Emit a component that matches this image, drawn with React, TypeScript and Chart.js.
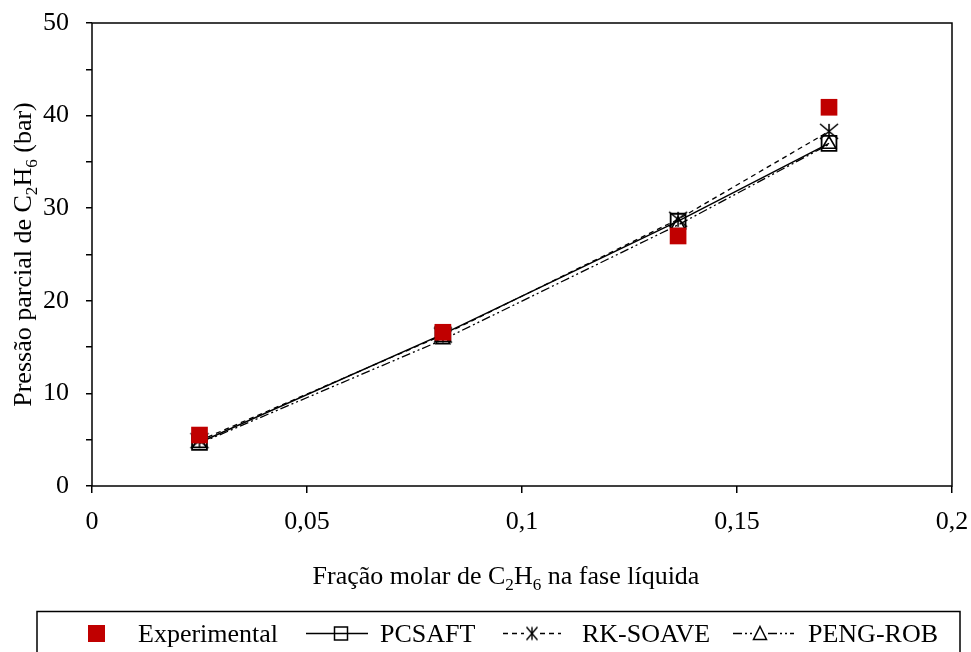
import React, { useEffect, useRef } from 'react';
import { Chart, registerables } from 'chart.js';

Chart.register(...registerables);

// Liquid-phase mole fraction of ethane
const moleFraction = [0.025, 0.0816, 0.1363, 0.1714];
// Partial pressure of ethane (bar)
const pExperimental = [5.5, 16.6, 27.0, 40.9];
const pPcsaft = [4.7, 16.4, 28.6, 37.0];
const pRkSoave = [4.9, 16.3, 28.8, 38.3];
const pPengRob = [4.6, 15.8, 28.2, 36.9];

const xTickValues = [0, 0.05, 0.1, 0.15, 0.2];
const yTickValues = [0, 5, 10, 15, 20, 25, 30, 35, 40, 45, 50];
const yLabelledTicks = [0, 10, 20, 30, 40, 50];

const seriesNames = ['Experimental', 'PCSAFT', 'RK-SOAVE', 'PENG-ROB'];

const FONT = "'Liberation Serif', 'Times New Roman', serif";
const RED = '#C00000';
const DASH_RK = [5, 4];
const DASH_PR = [9, 3, 2, 3, 2, 3];

type Seg = { t: string; sub?: boolean };

const xTitle: Seg[] = [
  { t: 'Fração molar de C' },
  { t: '2', sub: true },
  { t: 'H' },
  { t: '6', sub: true },
  { t: ' na fase líquida' },
];
const yTitle: Seg[] = [
  { t: 'Pressão parcial de C' },
  { t: '2', sub: true },
  { t: 'H' },
  { t: '6', sub: true },
  { t: ' (bar)' },
];

function richWidth(ctx: CanvasRenderingContext2D, segs: Seg[], size: number) {
  let w = 0;
  for (const s of segs) {
    ctx.font = `${s.sub ? size * 0.66 : size}px ${FONT}`;
    w += ctx.measureText(s.t).width;
  }
  return w;
}

function drawRich(ctx: CanvasRenderingContext2D, segs: Seg[], cx: number, baseline: number, size: number) {
  const w = richWidth(ctx, segs, size);
  let x = cx - w / 2;
  ctx.textBaseline = 'alphabetic';
  ctx.textAlign = 'left';
  ctx.fillStyle = '#000';
  for (const s of segs) {
    const fs = s.sub ? size * 0.66 : size;
    ctx.font = `${fs}px ${FONT}`;
    ctx.fillText(s.t, x, baseline + (s.sub ? size * 0.22 : 0));
    x += ctx.measureText(s.t).width;
  }
}

function makeAsterisk(w: number, h: number, lw: number) {
  const c = document.createElement('canvas');
  c.width = Math.ceil(w + lw * 2);
  c.height = Math.ceil(h + lw * 2);
  const g = c.getContext('2d')!;
  g.translate(c.width / 2, c.height / 2);
  g.strokeStyle = '#000';
  g.lineWidth = lw;
  g.beginPath();
  g.moveTo(0, -h / 2);
  g.lineTo(0, h / 2);
  g.moveTo(-w / 2, -h / 2);
  g.lineTo(w / 2, h / 2);
  g.moveTo(-w / 2, h / 2);
  g.lineTo(w / 2, -h / 2);
  g.stroke();
  return c;
}

const framePlugin = {
  id: 'frame',
  beforeDatasetsDraw(chart: any) {
    const { ctx, chartArea: a } = chart;
    ctx.save();
    ctx.strokeStyle = '#000';
    ctx.lineWidth = 1.5;
    ctx.strokeRect(a.left, a.top, a.right - a.left, a.bottom - a.top);
    ctx.restore();
  },
};

const titlesPlugin = {
  id: 'titles',
  afterDraw(chart: any) {
    const { ctx, chartArea: a } = chart;
    ctx.save();
    drawRich(ctx, xTitle, 506, 584, 26);
    ctx.translate(31, (a.top + a.bottom) / 2);
    ctx.rotate(-Math.PI / 2);
    drawRich(ctx, yTitle, 0, 0, 26);
    ctx.restore();
  },
};

function makeLegendPlugin(star: HTMLCanvasElement) {
  return {
    id: 'boxLegend',
    afterDraw(chart: any) {
      const { ctx } = chart;
      const cy = 633.5;
      ctx.save();
      ctx.strokeStyle = '#000';
      ctx.lineWidth = 1.5;
      ctx.strokeRect(37, 611.5, 923, 60);

      ctx.fillStyle = '#000';
      ctx.font = `26px ${FONT}`;
      ctx.textBaseline = 'alphabetic';
      ctx.textAlign = 'left';

      // Experimental
      ctx.fillStyle = RED;
      ctx.fillRect(88, cy - 8.5, 17, 17);
      ctx.fillStyle = '#000';
      ctx.fillText(seriesNames[0], 138, 642);

      // PCSAFT
      ctx.lineWidth = 1.5;
      ctx.beginPath();
      ctx.moveTo(306, cy);
      ctx.lineTo(368, cy);
      ctx.stroke();
      ctx.strokeRect(334.5, cy - 6.5, 13, 13);
      ctx.fillText(seriesNames[1], 380, 642);

      // RK-SOAVE
      ctx.setLineDash(DASH_RK);
      ctx.beginPath();
      ctx.moveTo(503, cy);
      ctx.lineTo(524, cy);
      ctx.moveTo(540, cy);
      ctx.lineTo(561, cy);
      ctx.stroke();
      ctx.setLineDash([]);
      ctx.drawImage(star, 532 - star.width / 2, cy - star.height / 2);
      ctx.fillText(seriesNames[2], 582, 642);

      // PENG-ROB
      ctx.setLineDash(DASH_PR);
      ctx.beginPath();
      ctx.moveTo(733, cy);
      ctx.lineTo(753, cy);
      ctx.moveTo(768, cy);
      ctx.lineTo(794, cy);
      ctx.stroke();
      ctx.setLineDash([]);
      ctx.beginPath();
      ctx.moveTo(760, cy - 7);
      ctx.lineTo(766.5, cy + 6);
      ctx.lineTo(753.5, cy + 6);
      ctx.closePath();
      ctx.stroke();
      ctx.fillText(seriesNames[3], 808, 642);
      ctx.restore();
    },
  };
}

const fmtComma = (v: number) => String(Number(v.toFixed(3))).replace('.', ',');

export default function App() {
  const canvasRef = useRef<HTMLCanvasElement | null>(null);

  useEffect(() => {
    if (!canvasRef.current) return;
    const star = makeAsterisk(18, 15, 1.6);
    const legendStar = makeAsterisk(11, 13, 1.4);
    const toXY = (ys: number[]) => moleFraction.map((x, i) => ({ x, y: ys[i] }));

    const chart = new Chart(canvasRef.current, {
      type: 'scatter',
      data: {
        datasets: [
          {
            label: seriesNames[0],
            data: toXY(pExperimental),
            showLine: false,
            pointStyle: 'rect',
            pointRadius: 11.8,
            pointBackgroundColor: RED,
            pointBorderColor: RED,
            pointBorderWidth: 0,
          },
          {
            label: seriesNames[1],
            data: toXY(pPcsaft),
            showLine: true,
            borderColor: '#000',
            borderWidth: 1.5,
            pointStyle: 'rect',
            pointRadius: 10.5,
            pointBackgroundColor: 'rgba(0,0,0,0)',
            pointBorderColor: '#000',
            pointBorderWidth: 1.8,
          },
          {
            label: seriesNames[2],
            data: toXY(pRkSoave),
            showLine: true,
            borderColor: '#000',
            borderWidth: 1.3,
            borderDash: DASH_RK,
            pointStyle: star as any,
            pointRadius: 9,
          },
          {
            label: seriesNames[3],
            data: toXY(pPengRob),
            showLine: true,
            borderColor: '#000',
            borderWidth: 1.3,
            borderDash: DASH_PR,
            pointStyle: 'triangle',
            pointRadius: 8,
            pointBackgroundColor: 'rgba(0,0,0,0)',
            pointBorderColor: '#000',
            pointBorderWidth: 1.6,
          },
        ],
      },
      options: {
        responsive: false,
        animation: false,
        events: [],
        layout: { padding: { top: 23, right: 19, left: 0, bottom: 0 } },
        plugins: {
          legend: { display: false },
          tooltip: { enabled: false },
        },
        scales: {
          x: {
            type: 'linear',
            min: 0,
            max: 0.2,
            afterBuildTicks: (s: any) => {
              s.ticks = xTickValues.map((value) => ({ value }));
            },
            afterFit: (s: any) => {
              s.height = 166;
              s.paddingLeft = 0;
              s.paddingRight = 0;
            },
            ticks: {
              color: '#000',
              font: { family: FONT, size: 26 },
              padding: 14,
              maxRotation: 0,
              autoSkip: false,
              callback: (v: any) => fmtComma(Number(v)),
            },
            grid: {
              drawOnChartArea: false,
              drawTicks: true,
              tickLength: 7,
              color: '#000',
              lineWidth: 1.5,
            },
            border: { display: false },
          },
          y: {
            type: 'linear',
            min: 0,
            max: 50,
            afterBuildTicks: (s: any) => {
              s.ticks = yTickValues.map((value) => ({ value }));
            },
            afterFit: (s: any) => {
              s.width = 92;
              s.paddingTop = 0;
              s.paddingBottom = 0;
            },
            ticks: {
              color: '#000',
              font: { family: FONT, size: 26 },
              padding: 17,
              autoSkip: false,
              callback: (v: any) => (yLabelledTicks.includes(Number(v)) ? String(v) : ''),
            },
            grid: {
              drawOnChartArea: false,
              drawTicks: true,
              tickLength: 6,
              color: '#000',
              lineWidth: 1.5,
            },
            border: { display: false },
          },
        },
      },
      plugins: [framePlugin, titlesPlugin, makeLegendPlugin(legendStar)],
    });

    return () => chart.destroy();
  }, []);

  return (
    <div style={{ position: 'fixed', left: 0, top: 0, width: 971, height: 652, background: '#fff', overflow: 'hidden' }}>
      <canvas ref={canvasRef} width={971} height={652} style={{ width: 971, height: 652, display: 'block' }} />
    </div>
  );
}
